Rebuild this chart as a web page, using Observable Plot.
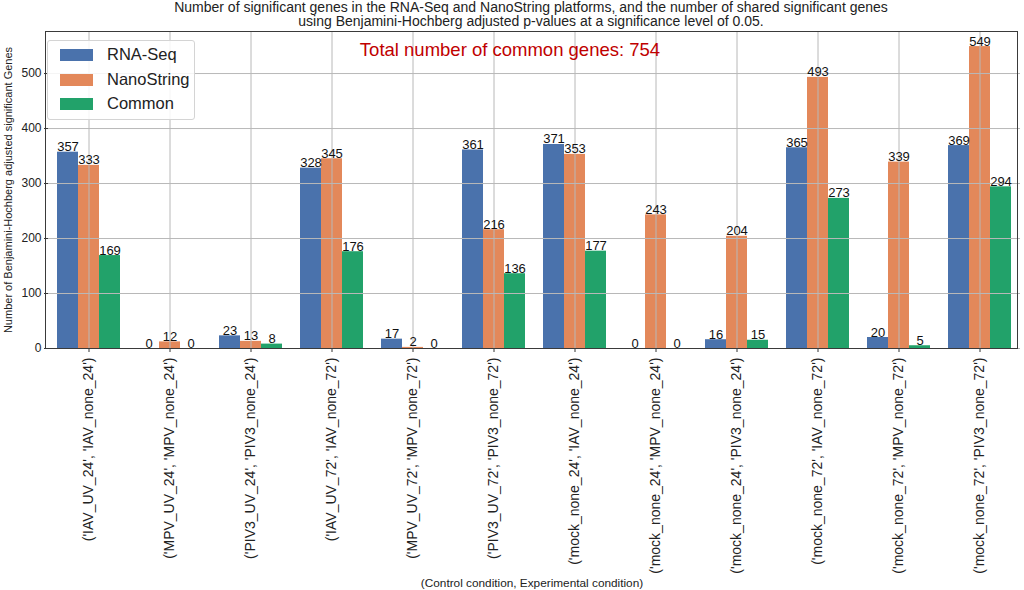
<!DOCTYPE html>
<html>
<head>
<meta charset="utf-8">
<script src="https://cdn.jsdelivr.net/npm/d3@7"></script>
<script src="https://cdn.jsdelivr.net/npm/@observablehq/plot@0.6"></script>
<style>
  html, body { margin: 0; padding: 0; background: #fff; }
  #wrap { position: relative; width: 1024px; height: 590px; font-family: "Liberation Sans", Arial, sans-serif; color: #222; overflow: hidden; }
  #wrap svg { position: absolute; left: 0; top: 0; }
  .abs { position: absolute; white-space: nowrap; }
  #title { left: 0; width: 1062px; top: 0px; text-align: center; font-size: 14px; line-height: 14px; color: #222; }
  #frame { left: 45px; top: 31px; width: 971px; height: 316px; border: 1px solid #3a3a3a; pointer-events: none; }
  #annot { left: 0; width: 1020px; top: 39px; text-align: center; font-size: 18.5px; color: #c00000; }
  #ylab { left: 8px; top: 190px; font-size: 11px; transform: translate(-50%, -50%) rotate(-90deg); transform-origin: center; }
  #xlab { left: 0; width: 1064px; top: 576px; text-align: center; font-size: 11.8px; }
  #legend { left: 47px; top: 40px; width: 146px; height: 78px; border: 1px solid #d4d4d4; border-radius: 3px; background: rgba(255,255,255,0.85); }
  .item { position: absolute; left: 12px; height: 20px; }
  .sw { position: absolute; left: 0; top: 4px; width: 33px; height: 12px; }
  .lt { position: absolute; left: 47px; top: -1px; font-size: 16.5px; line-height: 20px; color: #222; }
</style>
</head>
<body>
<div id="wrap"></div>
<script>
const categories = [
  "('IAV_UV_24', 'IAV_none_24')",
  "('MPV_UV_24', 'MPV_none_24')",
  "('PIV3_UV_24', 'PIV3_none_24')",
  "('IAV_UV_72', 'IAV_none_72')",
  "('MPV_UV_72', 'MPV_none_72')",
  "('PIV3_UV_72', 'PIV3_none_72')",
  "('mock_none_24', 'IAV_none_24')",
  "('mock_none_24', 'MPV_none_24')",
  "('mock_none_24', 'PIV3_none_24')",
  "('mock_none_72', 'IAV_none_72')",
  "('mock_none_72', 'MPV_none_72')",
  "('mock_none_72', 'PIV3_none_72')"
];
const series = ["RNA-Seq", "NanoString", "Common"];
const rnaseq     = [357, 0, 23, 328, 17, 361, 371, 0, 16, 365, 20, 369];
const nanostring = [333, 12, 13, 345, 2, 216, 353, 243, 204, 493, 339, 549];
const common     = [169, 0, 8, 176, 0, 136, 177, 0, 15, 273, 5, 294];
const yTicks = [0, 100, 200, 300, 400, 500];
const colors = ["#4a72ac", "#e3885a", "#22a26a"];

const titleLines = [
  "Number of significant genes in the RNA-Seq and NanoString platforms, and the number of shared significant genes",
  "using Benjamini-Hochberg adjusted p-values at a significance level of 0.05."
];
const annotation = "Total number of common genes: 754";
const yLabel = "Number of Benjamini-Hochberg adjusted significant Genes";
const xLabel = "(Control condition, Experimental condition)";

const valuesBySeries = [rnaseq, nanostring, common];
const data = categories.flatMap((c, i) =>
  series.map((s, k) => ({c, s, v: valuesBySeries[k][i]}))
);

const chart = Plot.plot({
  width: 1024,
  height: 590,
  marginTop: 31,
  marginBottom: 242,
  marginLeft: 46,
  marginRight: 3,
  style: {fontFamily: "'Liberation Sans', Arial, sans-serif", background: "transparent", color: "#222"},
  fx: {domain: categories, padding: 0, label: null},
  x: {domain: series, paddingInner: 0, paddingOuter: 0.375, axis: null},
  y: {domain: [0, 576.45], label: null},
  color: {domain: series, range: colors},
  marks: [
    Plot.barY(data, {fx: "c", x: "s", y: "v", fill: "s"}),
    Plot.gridY(yTicks, {stroke: "#b8b8b8", strokeOpacity: 1, strokeWidth: 1}),
    Plot.ruleX(categories, {fx: d => d, x: () => "NanoString", stroke: "#b8b8b8", strokeWidth: 1}),
    Plot.axisFx({anchor: "bottom", tickRotate: -90, tickSize: 4, tickPadding: 5, fontSize: 14, label: null, stroke: "#333"}),
    Plot.axisY({ticks: yTicks, tickSize: 4, tickPadding: 3, fontSize: 12, label: null, stroke: "#333"}),
    Plot.text(data, {fx: "c", x: "s", y: "v", text: d => String(d.v), dy: -1, lineAnchor: "bottom", fontSize: 13, fill: "#111"})
  ]
});

const wrap = document.getElementById("wrap");
wrap.appendChild(chart);

function addDiv(id, text, cls) {
  const d = document.createElement("div");
  d.id = id;
  d.className = "abs" + (cls ? " " + cls : "");
  if (text !== null) d.innerHTML = text;
  wrap.appendChild(d);
  return d;
}
addDiv("frame", "");
addDiv("title", titleLines.join("<br>"));
addDiv("annot", annotation);
addDiv("ylab", yLabel);
addDiv("xlab", xLabel);
const leg = addDiv("legend", "");
series.forEach((s, k) => {
  const it = document.createElement("div");
  it.className = "item";
  it.style.top = (4 + k * 24.5) + "px";
  it.innerHTML = `<div class="sw" style="background:${colors[k]}"></div><div class="lt">${s}</div>`;
  leg.appendChild(it);
});
</script>
</body>
</html>
